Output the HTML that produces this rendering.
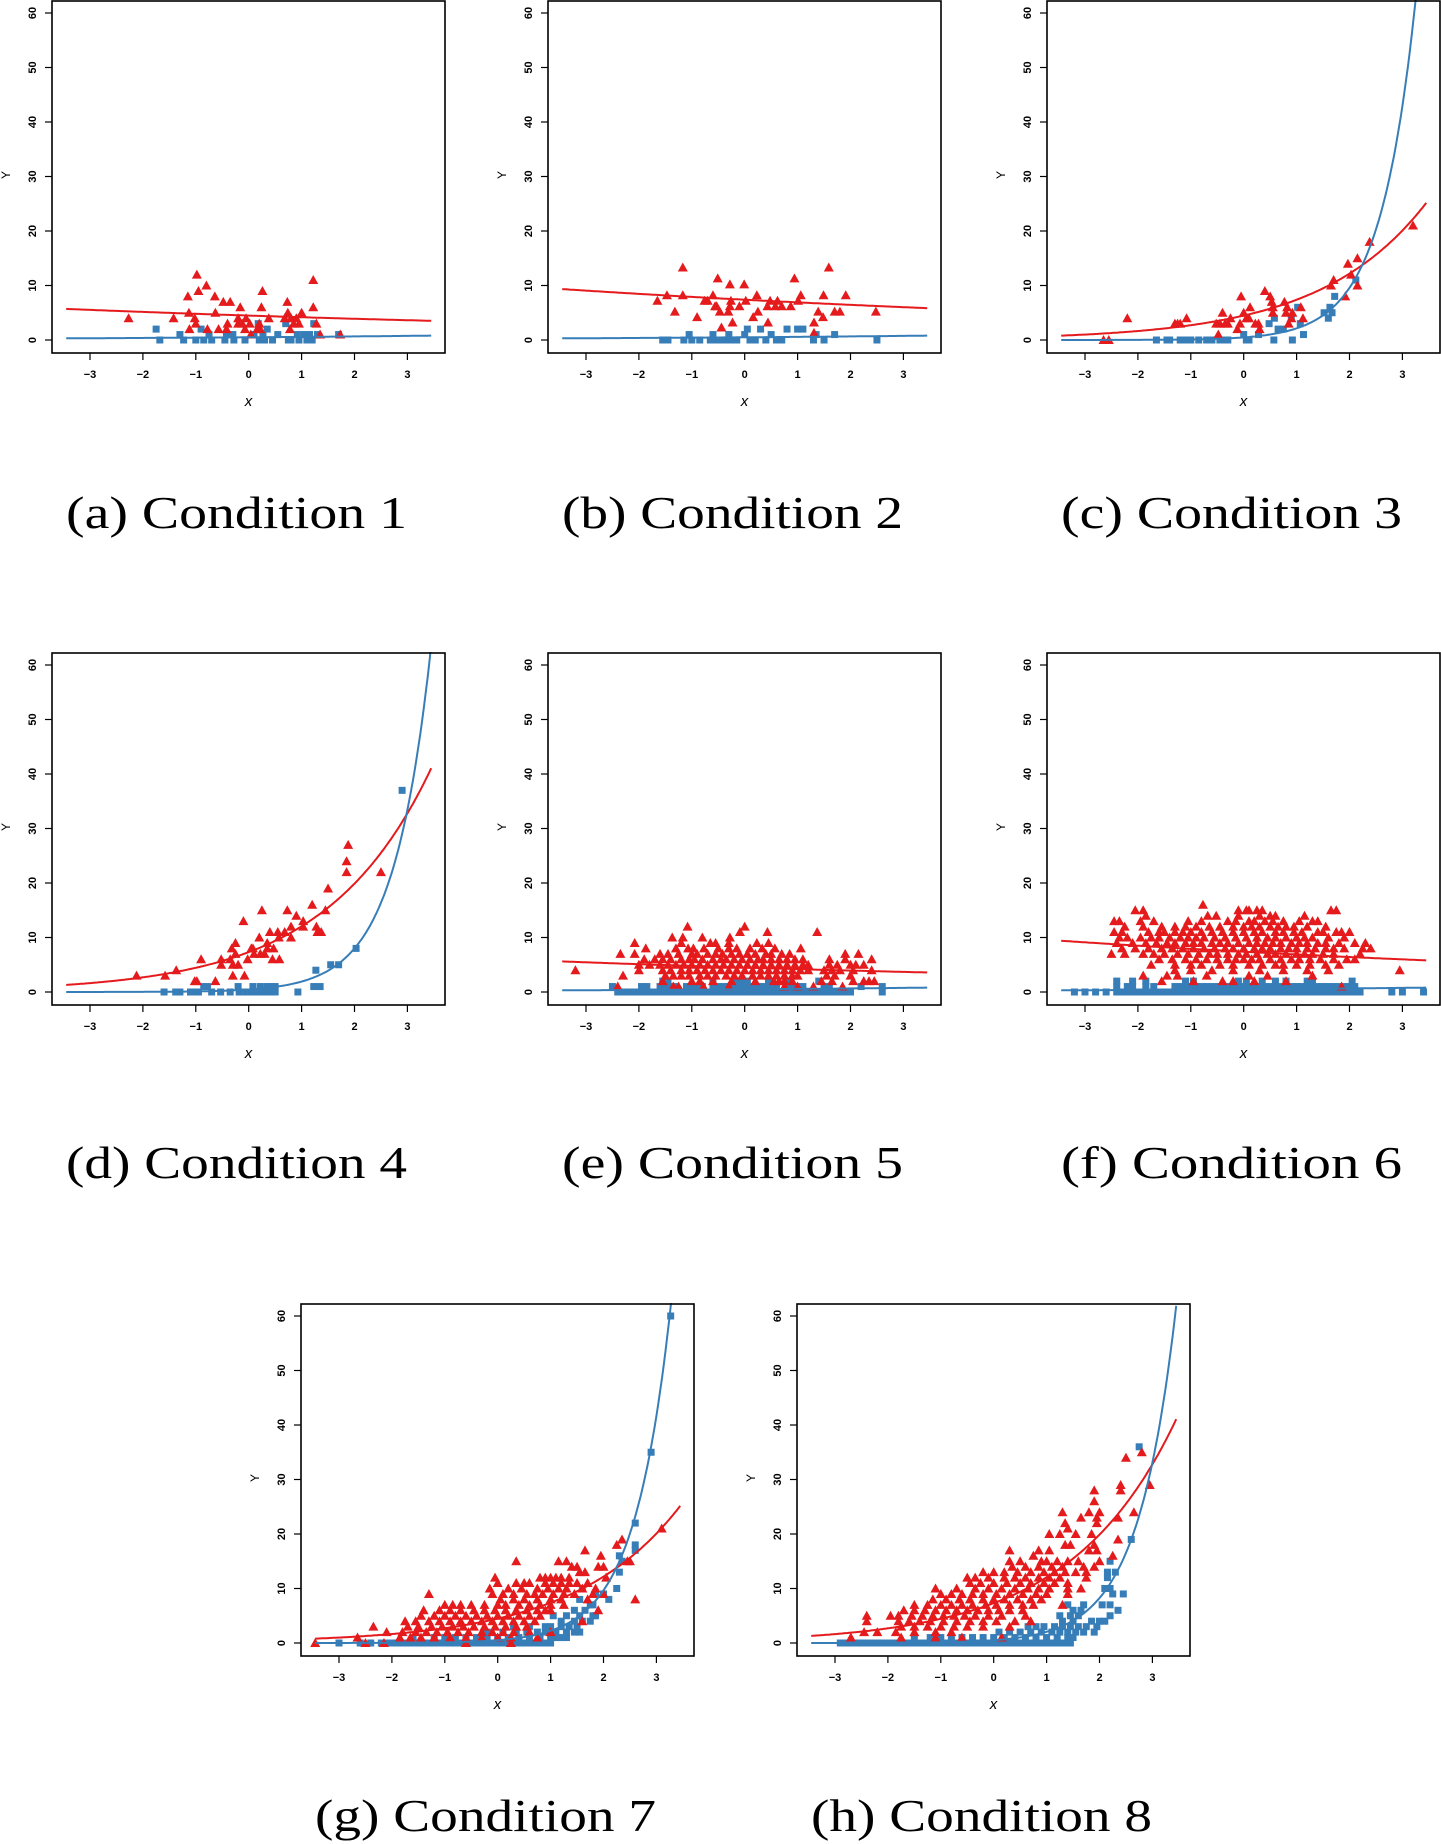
<!DOCTYPE html>
<html><head><meta charset="utf-8"><style>
html,body{margin:0;padding:0;background:#fff;}
svg{display:block;}
</style></head><body>
<svg id="fig" width="1441" height="1844" viewBox="0 0 1441 1844" xmlns="http://www.w3.org/2000/svg"></svg>
<script>
// ---- data (x, y) pairs for sparse panels ----
const aRed = [[-2.27,4],[-1.42,4],[-1.15,8],[-1.13,5],[-1.12,2],[-0.98,12],[-0.95,9],[-1.02,4],[-1.0,3],[-0.8,10],[-0.78,2],[-0.64,8],[-0.63,5],[-0.57,2],[-0.48,7],[-0.35,7],[-0.4,3],[-0.42,2],[-0.16,6],[-0.2,4],[-0.2,3],[-0.12,3],[-0.05,4],[-0.07,2],[0.02,3],[0.04,1],[0.16,2],[0.2,3],[0.24,6],[0.26,9],[0.22,2],[0.38,4],[0.68,4],[0.73,7],[0.74,5],[0.78,2],[0.8,4],[0.85,3],[0.9,4],[0.95,3],[1.0,5],[1.22,11],[1.22,6],[1.28,3],[1.35,1],[1.73,1]];
const aBlue = [[-1.75,2],[-1.68,0],[-1.3,1],[-1.23,0],[-1.0,0],[-0.9,2],[-0.85,0],[-0.75,1],[-0.7,0],[-0.45,0],[-0.42,1],[-0.3,1],[-0.28,0],[-0.07,0],[0.1,1],[0.18,3],[0.2,0],[0.27,1],[0.35,2],[0.3,0],[0.45,0],[0.55,1],[0.7,3],[0.75,0],[0.8,0],[0.92,1],[0.95,0],[1.05,1],[1.1,0],[1.15,1],[1.2,0],[1.23,3],[1.3,1],[1.7,1]];
const bRed = [[-1.65,7.2],[-1.47,8.2],[-1.32,5.2],[-1.17,13.3],[-1.17,8.2],[-0.9,4.2],[-0.76,7.2],[-0.7,7.2],[-0.6,8.2],[-0.56,6.2],[-0.51,11.3],[-0.53,6.2],[-0.47,5.2],[-0.44,2.3],[-0.31,5.2],[-0.28,10.2],[-0.28,6.2],[-0.26,7.2],[-0.23,3.2],[-0.1,6.2],[-0.01,10.2],[0.02,7.2],[0.16,4.2],[0.23,8.2],[0.25,5.2],[0.43,6.2],[0.44,3.2],[0.48,7.2],[0.58,6.2],[0.62,7.2],[0.7,6.2],[0.87,6.2],[0.94,11.3],[1.01,7.2],[1.06,8.2],[1.31,3.2],[1.31,1.3],[1.39,5.2],[1.48,4.2],[1.49,8.2],[1.59,13.3],[1.7,5.2],[1.8,5.2],[1.91,8.2],[2.48,5.2]];
const bBlue = [[-1.55,0],[-1.45,0],[-1.15,0],[-1.05,1],[-1.0,0],[-0.85,0],[-0.65,0],[-0.6,1],[-0.55,0],[-0.45,0],[-0.35,0],[-0.3,1],[-0.25,0],[-0.15,0],[0.0,1],[0.05,2],[0.1,0],[0.2,0],[0.3,2],[0.4,0],[0.5,1],[0.6,0],[0.7,0],[0.8,2],[1.0,2],[1.1,2],[1.3,0],[1.35,1],[1.5,0],[1.7,1],[2.5,0]];
const cRed = [[-2.65,0],[-2.55,0],[-2.2,4],[-1.3,3],[-1.25,3],[-1.2,3],[-1.08,4],[-0.52,3],[-0.48,1],[-0.45,3],[-0.4,5],[-0.35,3],[-0.3,3],[-0.25,4],[-0.12,2],[-0.07,3],[-0.05,8],[0.0,5],[0.05,4],[0.1,4],[0.12,6],[0.22,3],[0.28,3],[0.3,2],[0.4,9],[0.5,8],[0.53,7],[0.55,5],[0.55,6],[0.77,7],[0.8,5],[0.82,6],[0.85,3],[0.9,4],[0.92,5],[1.08,6],[1.12,4],[1.65,10],[1.7,11],[1.92,8],[1.97,14],[2.03,12],[2.15,15],[2.15,10],[2.38,18],[3.2,21]];
const cBlue = [[-1.65,0],[-1.45,0],[-1.4,0],[-1.2,0],[-1.1,0],[-1.0,0],[-0.85,0],[-0.7,0],[-0.6,0],[-0.45,0],[-0.35,0],[-0.3,0],[0.0,1],[0.05,0],[0.1,0],[0.28,1],[0.48,3],[0.58,4],[0.57,0],[0.65,2],[0.75,2],[0.9,4],[0.92,0],[1.02,6],[1.07,3],[1.13,1],[1.52,5],[1.6,4],[1.63,6],[1.67,5],[1.72,8],[2.12,11]];
const dRed = [[-2.12,3],[-1.58,3],[-1.37,4],[-1.02,2],[-0.98,2],[-0.9,6],[-0.63,2],[-0.52,6],[-0.52,5],[-0.35,6],[-0.32,8],[-0.3,3],[-0.3,5],[-0.25,9],[-0.25,7],[-0.2,5],[-0.1,13],[-0.08,3],[-0.02,6],[0.05,8],[0.08,8],[0.1,7],[0.2,10],[0.22,7],[0.25,15],[0.3,7],[0.35,9],[0.35,8],[0.4,11],[0.45,6],[0.47,8],[0.55,11],[0.57,10],[0.58,6],[0.68,11],[0.73,15],[0.8,12],[0.8,10],[0.9,14],[1.03,13],[1.03,12],[1.2,16],[1.28,12],[1.3,11],[1.37,11],[1.45,15],[1.5,19],[1.85,22],[1.85,24],[1.88,27],[2.5,22]];
const dBlue = [[-1.6,0],[-1.38,0],[-1.3,0],[-1.1,0],[-1.0,0],[-0.95,0],[-0.85,1],[-0.78,1],[-0.7,0],[-0.53,0],[-0.35,0],[-0.2,1],[-0.18,0],[-0.05,0],[0.05,0],[0.08,1],[0.15,0],[0.22,1],[0.25,0],[0.3,0],[0.35,1],[0.4,0],[0.45,1],[0.5,1],[0.5,0],[0.93,0],[1.23,1],[1.27,4],[1.35,1],[1.55,5],[1.7,5],[2.03,8],[2.9,37]];
// ---- dense panels: [y level, [x values]] ----
const eRed = [[12,[-1.08,0.0]],[11,[-0.09,0.43,1.37]],[10,[-1.37,-1.17,-0.8,-0.28]],[9,[-2.08,-1.2,-0.65,-0.55,-0.3,0.23,0.45]],[8,[-1.87,-1.3,-1.07,-0.97,-0.77,-0.5,-0.3,-0.15,0.1,0.33,0.57,1.06]],[7,[-2.35,-2.08,-1.6,-1.45,-1.25,-1.0,-0.9,-0.7,-0.55,-0.42,-0.25,-0.1,0.05,0.2,0.4,0.5,0.7,0.85,1.9,2.15]],[6,[-1.9,-1.7,-1.55,-1.4,-1.2,-1.05,-0.95,-0.8,-0.6,-0.45,-0.35,-0.2,-0.05,0.1,0.25,0.35,0.5,0.65,0.8,0.95,1.1,1.6,1.9,2.4]],[5,[-2.0,-1.8,-1.6,-1.45,-1.3,-1.15,-1.0,-0.85,-0.7,-0.55,-0.4,-0.25,-0.1,0.05,0.2,0.35,0.5,0.65,0.8,0.95,1.1,1.2,1.6,1.75,2.0,2.1,2.25]],[4,[-3.2,-2.0,-1.55,-1.4,-1.2,-1.05,-0.9,-0.75,-0.6,-0.45,-0.3,-0.15,0.0,0.15,0.3,0.45,0.6,0.75,0.9,1.05,1.2,1.5,1.65,1.8,2.05,2.4]],[3,[-2.3,-1.5,-1.35,-1.2,-1.05,-0.85,-0.7,-0.55,-0.35,-0.2,-0.05,0.15,0.3,0.45,0.6,0.75,0.9,1.0,1.55,1.7,2.0]],[2,[-1.55,-1.0,-0.85,-0.6,-0.25,0.2,0.55,0.65,0.75,0.9,1.45,1.65,2.05,2.25,2.35,2.45]],[1,[-2.4,-1.35,-1.25,-0.78,-0.3,0.75,1.0,1.3,1.85]]];
const eBlue = [[0,[-2.4,-2.3,-2.2,-2.1,-2.0,-1.9,-1.8,-1.7,-1.6,-1.5,-1.4,-1.3,-1.2,-1.1,-1.0,-0.9,-0.8,-0.7,-0.6,-0.5,-0.4,-0.3,-0.2,-0.1,0,0.1,0.2,0.3,0.4,0.5,0.6,0.7,0.8,0.9,1.0,1.1,1.2,1.3,1.4,1.5,1.6,1.7,1.8,1.9,2.0,2.6]],[1,[-2.5,-1.95,-1.85,-1.6,-1.5,-1.4,-1.3,-1.1,-1.0,-0.9,-0.8,-0.6,-0.5,-0.4,-0.3,-0.2,-0.1,0,0.1,0.2,0.3,0.4,0.5,0.6,0.8,0.9,1.0,1.1,1.5,1.6,2.2,2.6]],[2,[-1.55,-1.45,-0.6,-0.15,-0.05,0.05,0.45,0.8,1.4]]];
const fRed = [[16,[-0.77]],[15,[-2.05,-1.9,-0.1,0.05,0.1,0.25,0.35,1.65,1.75]],[14,[-1.85,-0.68,-0.52,-0.1,0.3,0.5,0.6,1.15]],[13,[-2.45,-2.35,-1.95,-1.7,-1.05,-0.8,-0.3,-0.15,0.1,0.2,0.4,0.55,0.75,1.05,1.3,1.4]],[12,[-2.25,-1.9,-1.55,-1.3,-1.1,-0.9,-0.65,-0.45,-0.2,0.0,0.15,0.3,0.5,0.65,0.8,0.95,1.2,1.55]],[11,[-2.45,-2.3,-1.8,-1.6,-1.5,-1.3,-1.15,-1.0,-0.8,-0.6,-0.4,-0.2,0.0,0.2,0.35,0.6,0.75,0.95,1.1,1.4,1.5,1.75,1.85,2.0]],[10,[-2.35,-2.2,-1.95,-1.75,-1.6,-1.4,-1.2,-1.05,-0.9,-0.75,-0.55,-0.35,-0.15,0.05,0.25,0.45,0.6,0.8,1.0,1.15,1.3,1.6,1.9]],[9,[-2.4,-2.1,-1.85,-1.65,-1.45,-1.3,-1.1,-0.95,-0.8,-0.6,-0.45,-0.3,-0.1,0.1,0.25,0.4,0.55,0.7,0.9,1.05,1.2,1.4,1.55,1.8,2.1,2.3]],[8,[-2.3,-2.05,-1.8,-1.55,-1.35,-1.15,-0.95,-0.75,-0.55,-0.35,-0.2,0.0,0.2,0.35,0.5,0.7,0.85,1.0,1.2,1.35,1.55,1.7,1.9,2.25,2.4]],[7,[-2.5,-2.25,-1.9,-1.7,-1.5,-1.25,-1.05,-0.85,-0.65,-0.5,-0.3,-0.1,0.05,0.25,0.45,0.6,0.8,1.0,1.15,1.3,1.5,1.7,2.2]],[6,[-1.6,-1.35,-1.1,-0.9,-0.7,-0.5,-0.3,-0.15,0.0,0.15,0.3,0.5,0.7,0.9,1.05,1.25,1.45,1.7,1.95,2.1]],[5,[-1.75,-1.3,-1.0,-0.8,-0.45,-0.2,0.1,0.35,0.6,0.75,1.0,1.25,1.55,1.8]],[4,[-1.3,-1.0,-0.6,-0.2,0.3,0.75,1.2,1.6,2.95]],[3,[-1.9,-1.45,-1.25,-0.7,0.1,0.45,1.3]],[2,[-1.55,-0.95,-0.4,-0.2,0.2,0.8]],[1,[1.85]]];
const fBlue = [[0,[-3.2,-3.0,-2.8,-2.6,-2.4,-2.3,-2.2,-2.1,-2.0,-1.9,-1.8,-1.7,-1.6,-1.5,-1.4,-1.3,-1.2,-1.1,-1.0,-0.9,-0.8,-0.7,-0.6,-0.5,-0.4,-0.3,-0.2,-0.1,0,0.1,0.2,0.3,0.4,0.5,0.6,0.7,0.8,0.9,1.0,1.1,1.2,1.3,1.4,1.5,1.6,1.7,1.8,1.9,2.0,2.1,2.2,2.8,3.0,3.4]],[1,[-2.4,-2.2,-2.1,-1.85,-1.7,-1.3,-1.2,-1.1,-1.0,-0.9,-0.8,-0.7,-0.6,-0.5,-0.4,-0.3,-0.2,-0.1,0,0.1,0.2,0.3,0.4,0.5,0.6,0.7,0.8,0.9,1.0,1.1,1.2,1.3,1.4,1.5,1.6,1.7,1.8,1.9,2.0,2.1]],[2,[-2.4,-2.1,-1.85,-1.1,-0.95,-0.1,0.05,0.35,0.6,0.8,1.2,1.3,2.05]]];
const gRed = [[21,[3.1]],[19,[2.35]],[18,[2.25]],[17,[1.65]],[16,[1.95]],[15,[0.35,1.15,1.3,2.45,2.5]],[14,[1.4,1.5,1.9,2.0]],[13,[1.55,1.65]],[12,[-0.05,0.8,0.9,1.0,1.1,1.2,1.35,2.05]],[11,[0.0,0.35,0.5,0.6,0.9,1.05,1.2,1.35,1.5,1.7]],[10,[-0.15,0.2,0.45,0.75,0.95,1.15,1.3,1.6,1.85]],[9,[-1.3,-0.1,0.1,0.3,0.55,0.7,0.85,1.05,1.25,1.45,1.8,2.0]],[8,[0.05,0.3,0.5,0.75,1.0,1.2,1.7,2.6]],[7,[-1.0,-0.85,-0.7,-0.5,-0.25,0.0,0.15,0.4,0.6,0.8,1.0,1.25]],[6,[-1.4,-1.1,-0.9,-0.7,-0.45,-0.25,-0.05,0.15,0.35,0.55,0.75,0.9,1.0,1.9]],[5,[-1.45,-1.2,-1.0,-0.8,-0.6,-0.4,-0.2,0.0,0.2,0.4,0.6,0.8]],[4,[-1.75,-1.55,-1.3,-1.1,-0.9,-0.7,-0.5,-0.3,-0.1,0.1,0.3,0.5,0.7,1.6]],[3,[-2.35,-1.7,-1.5,-1.25,-1.05,-0.85,-0.65,-0.45,-0.25,-0.05,0.15,0.35,0.55]],[2,[-2.1,-1.8,-1.55,-1.35,-1.15,-0.95,-0.75,-0.55,-0.3,-0.1,0.1,0.3,0.6,1.0]],[1,[-2.65,-1.85,-1.65,-1.45,-1.2,-0.9,-0.6,-0.3,0.0,0.25,0.75]],[0,[-3.45,-2.5,-2.15,-0.6,0.25]]];
const gBlue = [[0,[-3.0,-2.6,-2.4,-2.2,-2.1,-2.0,-1.9,-1.8,-1.7,-1.6,-1.5,-1.4,-1.3,-1.2,-1.1,-1.0,-0.9,-0.8,-0.7,-0.6,-0.5,-0.4,-0.3,-0.2,-0.1,0,0.1,0.2,0.3,0.4,0.5,0.6,0.7,0.8,0.9,1.0]],[1,[-1.6,-1.2,-1.0,-0.8,-0.6,-0.4,-0.2,0,0.2,0.4,0.6,0.8,1.0,1.1,1.2,1.3]],[2,[-0.2,0.1,0.35,0.55,0.75,0.9,1.1,1.3,1.45,1.55]],[3,[0.3,0.6,0.9,1.0,1.2,1.35,1.5]],[4,[1.2,1.45,1.6,1.75]],[5,[1.05,1.3,1.55,1.8,1.85]],[6,[1.45,1.65]],[7,[1.75,1.8]],[8,[1.55,2.1]],[9,[1.85,2.0]],[10,[1.6,2.25]],[13,[2.3]],[15,[2.35]],[16,[2.3]],[17,[2.6]],[18,[2.6]],[22,[2.6]],[35,[2.9]],[60,[3.27]]];
const hRed = [[35,[2.8]],[34,[2.5]],[29,[2.4,2.95]],[28,[1.9,2.4]],[26,[1.9]],[24,[1.3,1.8,2.0,2.65]],[23,[1.65,1.95,2.35]],[22,[1.35,1.95]],[21,[1.4]],[20,[1.05,1.25,1.55,1.85]],[19,[2.35]],[18,[1.35,1.45,1.9]],[17,[0.3,0.85,1.05,1.8,1.95]],[16,[0.75,2.25]],[15,[0.3,0.5,0.9,1.0,1.2,1.4,1.6,2.0]],[14,[0.35,0.6,0.85,1.1,1.3,1.7,1.9]],[13,[-0.2,0.0,0.2,0.45,0.7,0.95,1.15,1.35,1.55,1.75]],[12,[-0.5,-0.35,-0.1,0.2,0.4,0.6,0.85,1.05,1.25,1.75]],[11,[-0.45,-0.25,0.0,0.25,0.5,0.7,0.95,1.15,1.4]],[10,[-1.1,-0.7,-0.35,-0.1,0.15,0.4,0.65,0.85,1.05,1.4,1.65]],[9,[-1.0,-0.8,-0.6,-0.4,-0.2,0.05,0.3,0.55,0.8,1.0,1.4]],[8,[-1.15,-0.9,-0.65,-0.45,-0.2,0.0,0.2,0.45,0.7,0.9]],[7,[-1.5,-1.25,-1.0,-0.8,-0.6,-0.4,-0.15,0.05,0.3,0.55,0.75,1.3]],[6,[-1.7,-1.5,-1.3,-1.1,-0.9,-0.7,-0.5,-0.3,-0.1,0.1,0.3,0.55]],[5,[-2.4,-1.95,-1.8,-1.55,-1.35,-1.15,-0.95,-0.75,-0.55,-0.35,-0.1,0.15,0.6]],[4,[-2.4,-1.8,-1.6,-1.4,-1.2,-0.95,-0.7,-0.45,-0.2,0.05,0.4,0.7]],[3,[-1.75,-1.5,-1.25,-1.0,-0.75,-0.5,-0.2,0.3]],[2,[-2.45,-2.2,-1.85,-1.5,-1.1,-0.8]],[1,[-2.7,-1.75,-1.1,-0.6,0.15]]];
const hBlue = [[0,[-2.9,-2.8,-2.7,-2.6,-2.5,-2.4,-2.3,-2.2,-2.1,-2.0,-1.9,-1.8,-1.7,-1.6,-1.5,-1.4,-1.3,-1.2,-1.1,-1.0,-0.9,-0.8,-0.7,-0.6,-0.5,-0.4,-0.3,-0.2,-0.1,0,0.1,0.2,0.3,0.4,0.5,0.6,0.7,0.8,0.9,1.0,1.1,1.2,1.3,1.4,1.45]],[1,[-1.5,-1.2,-1.0,-0.8,-0.6,-0.4,-0.2,0,0.2,0.4,0.6,0.8,1.0,1.2,1.4,1.5]],[2,[0.1,0.3,0.5,0.7,0.9,1.1,1.25,1.4,1.55,1.7,1.9]],[3,[0.65,0.8,0.95,1.15,1.3,1.45,1.6,1.75,1.95]],[4,[1.3,1.5,1.85,2.0,2.1]],[5,[1.25,1.45,1.6,2.2]],[6,[1.5,1.65,2.35]],[7,[1.4,1.7,2.05,2.2]],[9,[2.25,2.45]],[10,[2.1,2.2]],[12,[2.15]],[13,[2.15,2.3]],[15,[2.2]],[19,[2.6]],[36,[2.75]]];
// ---- fitted curve parameters y = exp(a + b x) ----
const redA  = [1.5, 2.0, 1.5, 1.99, 1.5, 2.0, 1.5, 1.99];
const redB  = [-0.07, -0.068, 0.5, 0.5, -0.065, -0.07, 0.5, 0.5];
const blueA = [-0.7, -0.7, -0.74, -0.78, -0.7, -0.7, -0.65, -0.67];
const blueB = [0.14, 0.14, 1.5, 1.43, 0.14, 0.14, 1.46, 1.39];
const xTicks = [-3,-2,-1,0,1,2,3];
const yTicks = [0,10,20,30,40,50,60];
const captions = ["(a)  Condition 1","(b)  Condition 2","(c)  Condition 3","(d)  Condition 4","(e)  Condition 5","(f)  Condition 6","(g)  Condition 7","(h)  Condition 8"];

const NS="http://www.w3.org/2000/svg";
const svg=document.getElementById('fig');
function mk(tag,attrs,parent){const e=document.createElementNS(NS,tag);for(const k in attrs)e.setAttribute(k,attrs[k]);(parent||svg).appendChild(e);return e;}
function pairs(d){ if(d.length && Array.isArray(d[0][1])){const out=[];d.forEach(l=>l[1].forEach(x=>out.push([x,l[0]])));return out;} return d; }

const panels=[
 {L:52,T:0,red:aRed,blue:aBlue,capY:514},
 {L:548,T:0,red:bRed,blue:bBlue,capY:514},
 {L:1047,T:0,red:cRed,blue:cBlue,capY:514},
 {L:52,T:652,red:dRed,blue:dBlue,capY:1164},
 {L:548,T:652,red:eRed,blue:eBlue,capY:1164},
 {L:1047,T:652,red:fRed,blue:fBlue,capY:1164},
 {L:301,T:1303,red:gRed,blue:gBlue,capY:1817},
 {L:797,T:1303,red:hRed,blue:hBlue,capY:1817}
];
const W=393,H=353;
panels.forEach((p,i)=>{
  const g=mk('g',{});
  
  
  const sx=x=>p.L+38+(x+3)*52.9;
  const sy=y=>p.T+340-y*5.45;
  const clipId='clip'+i;
  const cp=mk('clipPath',{id:clipId},g);
  mk('rect',{x:p.L,y:p.T,width:W,height:H},cp);
  const inner=mk('g',{'clip-path':'url(#'+clipId+')'},g);
  // blue squares
  pairs(p.blue).forEach(d=>{
    const r=mk('rect',{x:sx(d[0])-3.5,y:sy(d[1])-3.5,width:7,height:7,fill:'#377eb8'},inner);
    
    
  });
  // red triangles
  pairs(p.red).forEach(d=>{
    const cx=sx(d[0]),cy=sy(d[1]);
    const t=mk('polygon',{points:`${cx-5},${cy+4} ${cx+5},${cy+4} ${cx},${cy-5}`,fill:'#e41a1c'},inner);
    
    
  });
  // curves
  [['red',redA[i],redB[i],'#e41a1c'],['blue',blueA[i],blueB[i],'#377eb8']].forEach(c=>{
    let dstr='';
    for(let k=0;k<=200;k++){const x=-3.45+6.9*k/200;const y=Math.exp(c[1]+c[2]*x);const py=Math.max(sy(y),p.T-20);dstr+=(k?'L':'M')+sx(x).toFixed(1)+','+py.toFixed(1);}
    const pth=mk('path',{d:dstr,fill:'none',stroke:c[3],'stroke-width':2},inner);
    
    
  });
  const box=mk('rect',{x:p.L,y:p.T+1,width:W,height:H-1,fill:'none',stroke:'#000','stroke-width':1.6},g);
  
  
  // x ticks
  xTicks.forEach(t=>{
    mk('line',{x1:sx(t),x2:sx(t),y1:p.T+H,y2:p.T+H+7,stroke:'#000','stroke-width':1.2},g);
    const tx=mk('text',{x:sx(t),y:p.T+378,'font-size':11,'font-weight':'bold','font-family':'Liberation Sans, sans-serif','text-anchor':'middle'},g);
    tx.textContent=t<0?'\u2212'+(-t):String(t);
    
    
  });
  yTicks.forEach(t=>{
    mk('line',{x1:p.L-7,x2:p.L,y1:sy(t),y2:sy(t),stroke:'#000','stroke-width':1.2},g);
    const tx=mk('text',{x:0,y:0,transform:`translate(${p.L-16},${sy(t)}) rotate(-90)`,'font-size':11,'font-weight':'bold','font-family':'Liberation Sans, sans-serif','text-anchor':'middle'},g);
    tx.textContent=String(t);
    
    
  });
  const xt=mk('text',{x:p.L+W/2,y:p.T+406,'font-size':15,'font-style':'italic','font-family':'Liberation Sans, sans-serif','text-anchor':'middle'},g);
  xt.textContent='x';
  
  
  const yt=mk('text',{x:0,y:0,transform:`translate(${p.L-42},${p.T+175}) rotate(-90)`,'font-size':12,'font-family':'Liberation Sans, sans-serif','text-anchor':'middle'},g);
  yt.textContent='Y';
  
  
  const cap=mk('text',{x:p.L+W/2-12,y:p.capY+14,'font-size':46,'font-family':'Liberation Serif, serif','text-anchor':'middle',textLength:341,lengthAdjust:'spacingAndGlyphs'},g);
  cap.textContent=captions[i];
  
  
});
</script>
</body></html>
